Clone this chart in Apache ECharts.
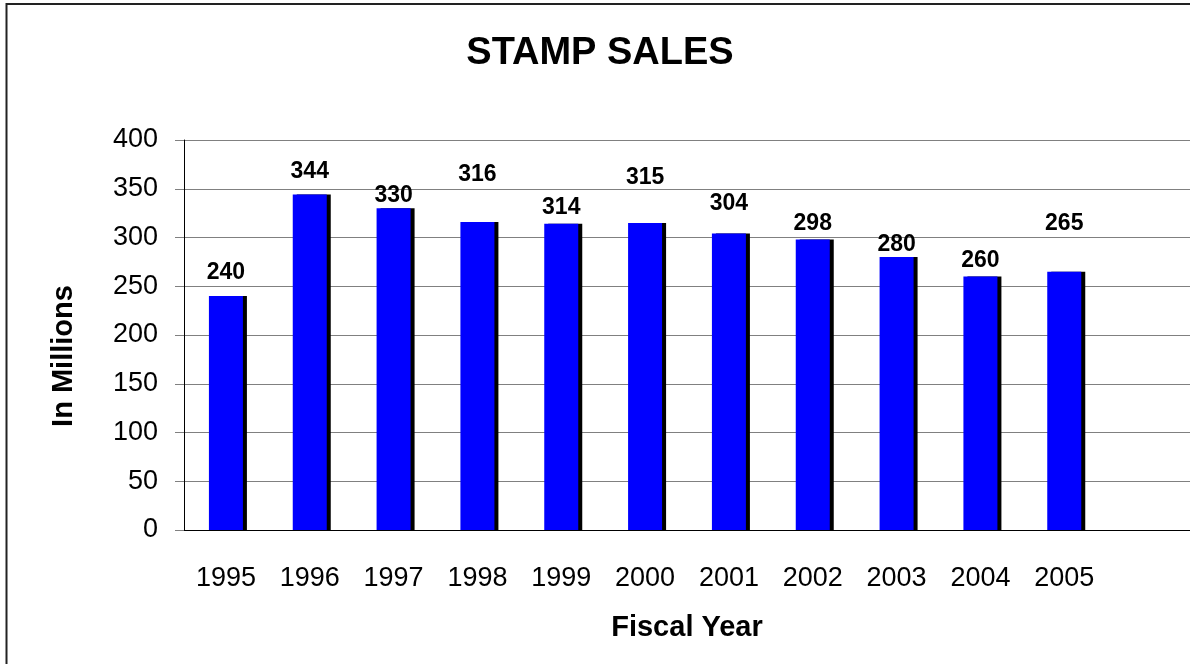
<!DOCTYPE html>
<html>
<head>
<meta charset="utf-8">
<title>Stamp Sales</title>
<script src="https://cdn.jsdelivr.net/npm/echarts@6/dist/echarts.min.js"></script>
<style>
  html, body { margin: 0; padding: 0; background: #fff; }
  #main { width: 1190px; height: 664px; }
</style>
</head>
<body>
<div id="main"></div>
<script>
// data
var years = ['1995', '1996', '1997', '1998', '1999', '2000', '2001', '2002', '2003', '2004', '2005', ''];
var sales = [240, 344, 330, 316, 314, 315, 304, 298, 280, 260, 265];
var yTicks = [0, 50, 100, 150, 200, 250, 300, 350, 400];

// how far each value label sits above its bar (px), labels were nudged by hand in the original
var labelLift = [12, 11, 1, 36, 5, 34, 18, 4, 1, 4, 36];

var font = '"Liberation Sans", Arial, Helvetica, sans-serif';

var myChart = echarts.init(document.getElementById('main'));

var option = {
    animation: false,
    title: {
        text: 'STAMP SALES',
        left: 600,
        textAlign: 'center',
        top: 35,
        padding: 0,
        textStyle: {
            fontFamily: font,
            fontSize: 38,
            fontWeight: 'bold',
            color: '#000'
        }
    },
    grid: {
        left: 184,
        right: -4,
        top: 140,
        bottom: 134
    },
    xAxis: {
        type: 'category',
        data: years,
        name: 'Fiscal Year',
        nameLocation: 'middle',
        nameGap: 83,
        nameTextStyle: {
            fontFamily: font,
            fontSize: 29,
            fontWeight: 'bold',
            color: '#000'
        },
        axisLine: { lineStyle: { color: '#000', width: 1 } },
        axisTick: { length: 10, lineStyle: { color: '#808080' } },
        axisLabel: {
            margin: 35,
            fontFamily: font,
            fontSize: 27,
            color: '#000'
        }
    },
    yAxis: {
        type: 'value',
        min: yTicks[0],
        max: yTicks[yTicks.length - 1],
        interval: 50,
        axisLine: { show: true, lineStyle: { color: '#000', width: 1 } },
        axisTick: { show: true, length: 9, lineStyle: { color: '#808080' } },
        axisLabel: {
            margin: 26,
            fontFamily: font,
            fontSize: 27,
            color: '#000'
        },
        splitLine: { lineStyle: { color: '#808080', width: 1 } }
    },
    series: [{
        type: 'bar',
        barWidth: 34,
        data: sales.map(function (v, i) {
            return { value: v, label: { distance: labelLift[i] } };
        }),
        itemStyle: {
            color: '#0000ff',
            shadowColor: '#000',
            shadowBlur: 0,
            shadowOffsetX: 4,
            shadowOffsetY: 0
        },
        label: {
            show: true,
            position: 'top',
            fontFamily: font,
            fontSize: 23,
            fontWeight: 'bold',
            color: '#000'
        }
    }],
    graphic: [{
        type: 'rect',
        shape: { x: 6.5, y: 4, width: 1300, height: 800 },
        style: { fill: 'none', stroke: '#222', lineWidth: 2 },
        silent: true
    }, {
        type: 'text',
        x: 64,
        y: 356,
        rotation: Math.PI / 2,
        style: {
            text: 'In Millions',
            align: 'center',
            verticalAlign: 'middle',
            font: 'bold 29px ' + font,
            fill: '#000'
        },
        silent: true
    }]
};

myChart.setOption(option);
</script>
</body>
</html>
